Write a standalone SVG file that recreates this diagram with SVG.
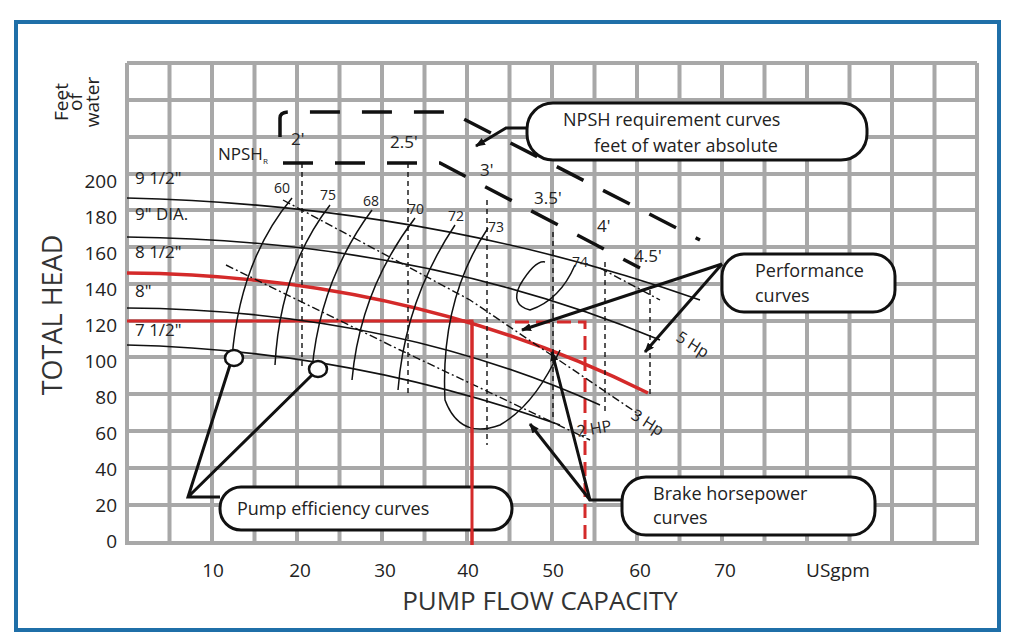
<svg xmlns="http://www.w3.org/2000/svg" width="1024" height="643" viewBox="0 0 1024 643">
<defs>
<style>
text{font-family:"Open Sans","Liberation Sans",sans-serif;fill:#222}
.g{stroke:#a8a8a8;stroke-width:4}
.c{fill:none;stroke:#111;stroke-width:1.6}
.e{fill:none;stroke:#111;stroke-width:1.5}
.d{fill:none;stroke:#111;stroke-width:1.4;stroke-dasharray:5 4}
.dd{fill:none;stroke:#111;stroke-width:1.4;stroke-dasharray:8 3 2 3}
.n{fill:none;stroke:#111;stroke-width:3.5;stroke-dasharray:30 22}
.box{fill:#fff;stroke:#111;stroke-width:3}
.ld{fill:none;stroke:#111;stroke-width:3}
.tk{font-size:19px;text-anchor:end}
.xk{font-size:19px;text-anchor:middle}
.lb{font-size:17px}
.sm{font-size:14px}
</style>
<marker id="ah" markerWidth="10" markerHeight="8" refX="9" refY="4" orient="auto" markerUnits="userSpaceOnUse"><path d="M0,0 L10,4 L0,8 Z" fill="#111"/></marker>
</defs>
<rect x="0" y="0" width="1024" height="643" fill="#fff"/>
<rect x="16" y="22" width="983" height="608" fill="#fff" stroke="#1f6fa8" stroke-width="4"/>
<g id="grid">
<path class="g" d="M127,63V545M169.5,63V545M212,63V545M254.5,63V545M297,63V545M339.5,63V545M382,63V545M424.5,63V545M467,63V545M509.5,63V545M552,63V545M594.5,63V545M637,63V545M679.5,63V545M722,63V545M764.5,63V545M807,63V545M849.5,63V545M892,63V545M934.5,63V545M977,63V545"/>
<path class="g" d="M127,63H977M127,100H977M127,137H977M127,174H977M127,210H977M127,247H977M127,284H977M127,321H977M127,357H977M127,394H977M127,431H977M127,468H977M127,505H977M127,543H977"/>
</g>
<g id="axes">
<text transform="translate(68,102) rotate(-90)" text-anchor="middle" style="font-size:19px">Feet</text>
<text transform="translate(82,102) rotate(-90)" text-anchor="middle" style="font-size:19px">of</text>
<text transform="translate(99,102) rotate(-90)" text-anchor="middle" style="font-size:19px">water</text>
<text transform="translate(62,315) rotate(-90)" text-anchor="middle" style="font-size:27px;fill:#333">TOTAL HEAD</text>
<text class="tk" x="117" y="188">200</text><text class="tk" x="117" y="224">180</text><text class="tk" x="117" y="260">160</text><text class="tk" x="117" y="296">140</text><text class="tk" x="117" y="332">120</text><text class="tk" x="117" y="368">100</text><text class="tk" x="117" y="404">80</text><text class="tk" x="117" y="440">60</text><text class="tk" x="117" y="476">40</text><text class="tk" x="117" y="512">20</text><text class="tk" x="117" y="548">0</text>
<text class="xk" x="213" y="577">10</text><text class="xk" x="300" y="577">20</text><text class="xk" x="385" y="577">30</text><text class="xk" x="468" y="577">40</text><text class="xk" x="553" y="577">50</text><text class="xk" x="640" y="577">60</text><text class="xk" x="725" y="577">70</text><text class="xk" x="838" y="577">USgpm</text>
<text x="540" y="610" text-anchor="middle" style="font-size:26px;fill:#333">PUMP FLOW CAPACITY</text>
</g>
<g id="performance-curves">
<path d="M127,321H472V545" fill="none" stroke="#d42a2a" stroke-width="3"/>
<path d="M515,322H585V545" fill="none" stroke="#d42a2a" stroke-width="3" stroke-dasharray="14 7"/>
<path class="c" d="M127,198 Q430,205 700,300"/>
<path class="c" d="M127,237 Q420,240 660,340"/>
<path d="M127,273 Q410,275 648,393" fill="none" stroke="#d42a2a" stroke-width="3.5"/>
<path class="c" d="M127,308 Q390,310 600,405"/>
<path class="c" d="M127,345 Q350,350 560,425"/>
<text class="lb" x="135" y="184">9 1/2"</text>
<text class="lb" x="135" y="220">9" DIA.</text>
<text class="lb" x="135" y="258">8 1/2"</text>
<text class="lb" x="135" y="297">8"</text>
<text class="lb" x="135" y="336">7 1/2"</text>
</g>
<g id="efficiency-curves">
<path class="e" d="M292,198 Q240,260 232,358"/>
<path class="e" d="M330,205 Q280,270 275,365"/>
<path class="e" d="M372,210 Q320,280 312,370"/>
<path class="e" d="M415,218 Q360,290 352,380"/>
<path class="e" d="M455,225 Q405,300 398,390"/>
<path class="e" d="M488,228 Q440,300 445,400 Q460,440 500,425 Q535,405 560,350"/>
<path class="e" d="M575,265 Q560,300 530,310 Q510,305 520,285 Q535,260 545,262"/>
<text class="sm" x="274" y="193">60</text><text class="sm" x="320" y="200">75</text><text class="sm" x="363" y="206">68</text><text class="sm" x="408" y="214">70</text><text class="sm" x="448" y="221">72</text><text class="sm" x="488" y="232">73</text><text class="sm" x="572" y="267">74</text>
</g>
<g id="hp-curves">
<path class="dd" d="M283,200 L470,300 L640,415"/>
<path class="dd" d="M226,265 L400,350 L590,440"/>
<path class="dd" d="M600,268 L660,300"/>
<text class="sm" transform="translate(675,340) rotate(32)" style="font-size:16px">5 Hp</text>
<text class="sm" transform="translate(630,418) rotate(32)" style="font-size:16px">3 Hp</text>
<text class="sm" transform="translate(578,437) rotate(-10)" style="font-size:16px">2 HP</text>
</g>
<g id="npsh">
<path class="n" d="M280,137 V118 Q280,112 290,112 H450 L700,240"/>
<path class="n" d="M283,163 H440 L640,268"/>
<path class="d" d="M302,163V370M408,163V395M487,200V445M553,232V420M605,262V415M650,290V395"/>
<text class="lb" x="218" y="160">NPSH<tspan style="font-size:8px" dy="4">R</tspan></text>
<text class="lb" x="291" y="145">2'</text><text class="lb" x="390" y="148">2.5'</text><text class="lb" x="480" y="176">3'</text><text class="lb" x="534" y="204">3.5'</text><text class="lb" x="597" y="232">4'</text><text class="lb" x="634" y="262">4.5'</text>
</g>
<g id="connectors">
<path class="ld" d="M527,128 H506 L476,146" marker-end="url(#ah)"/>
<path class="ld" d="M722,264 L522,330" marker-end="url(#ah)"/>
<path class="ld" d="M722,264 L645,352" marker-end="url(#ah)"/>
<path class="ld" d="M220,497 H188 L230,365 M188,497 L312,375"/>
<ellipse cx="234" cy="358" rx="9" ry="8" fill="#fff" stroke="#111" stroke-width="2.5"/>
<ellipse cx="318" cy="369" rx="9" ry="8" fill="#fff" stroke="#111" stroke-width="2.5"/>
<path class="ld" d="M622,500 H590 L552,352" marker-end="url(#ah)"/>
<path class="ld" d="M590,500 L530,424" marker-end="url(#ah)"/>
</g>
<g id="npsh-label">
<rect class="box" x="527" y="103" width="340" height="57" rx="26"/>
<text x="563" y="126" style="font-size:18px">NPSH requirement curves</text>
<text x="594" y="152" style="font-size:18px">feet of water absolute</text>
</g>
<g id="performance-label">
<rect class="box" x="722" y="254" width="173" height="58" rx="22"/>
<text x="755" y="277" style="font-size:18px">Performance</text>
<text x="755" y="302" style="font-size:18px">curves</text>
</g>
<g id="efficiency-label">
<rect class="box" x="220" y="487" width="292" height="43" rx="21"/>
<text x="237" y="515" style="font-size:18px">Pump efficiency curves</text>
</g>
<g id="brake-label">
<rect class="box" x="622" y="477" width="253" height="58" rx="24"/>
<text x="653" y="500" style="font-size:18px">Brake horsepower</text>
<text x="653" y="524" style="font-size:18px">curves</text>
</g>
<path d="M472,321V545" stroke="#d42a2a" stroke-width="3"/>
</svg>
